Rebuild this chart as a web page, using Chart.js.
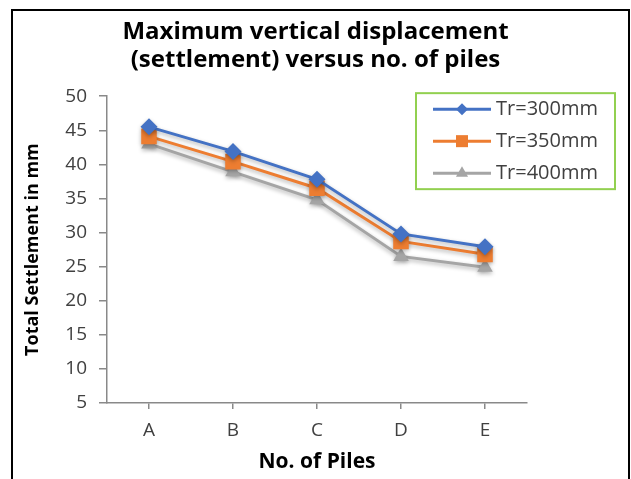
<!DOCTYPE html>
<html>
<head>
<meta charset="utf-8">
<script src="https://cdn.jsdelivr.net/npm/chart.js@4.4.1/dist/chart.umd.min.js"></script>
<style>
  html, body { margin: 0; padding: 0; background: #fff; }
  .frame { position: absolute; left: 11px; top: 9px; width: 615px; height: 500px; border: 2px solid #000; }
  .wrap { position: absolute; left: 0; top: 0; width: 631px; height: 479px; }
</style>
</head>
<body>
<div class="frame"></div>
<div class="wrap"><canvas id="settlement"></canvas></div>
<script>
// categories and series
const piles = ["A", "B", "C", "D", "E"];
const tr300 = [45.5, 41.9, 37.8, 29.8, 27.9];
const tr350 = [44.1, 40.4, 36.5, 28.7, 26.8];
const tr400 = [43.0, 38.9, 34.8, 26.5, 24.9];
const seriesNames = ["Tr=300mm", "Tr=350mm", "Tr=400mm"];

const axisGray = "#898989";
const font = "Open Sans";

// soft glow under lines and markers, like the Excel original
const shadowPlugin = {
  id: "shadow",
  beforeDatasetsDraw(chart) {
    const ctx = chart.ctx;
    ctx.save();
    ctx.shadowColor = "rgba(0,0,0,0.3)";
    ctx.shadowBlur = 4;
    ctx.shadowOffsetY = 2;
  },
  afterDatasetsDraw(chart) {
    chart.ctx.restore();
  }
};

// boxed legend sitting inside the plot, top right
const legendMarker = [6, 8.5, 7];
const boxLegend = {
  id: "boxLegend",
  afterDraw(chart) {
    const ctx = chart.ctx;
    const area = chart.chartArea;
    const x = area.right - 111, y = area.top - 3, w = 199, h = 96;
    ctx.save();
    ctx.fillStyle = "#fff";
    ctx.fillRect(x, y, w, h);
    ctx.strokeStyle = "#92d050";
    ctx.lineWidth = 2;
    ctx.strokeRect(x, y, w, h);
    chart.data.datasets.forEach((ds, i) => {
      const cy = y + 16 + i * 32;
      ctx.strokeStyle = ds.borderColor;
      ctx.fillStyle = ds.borderColor;
      ctx.lineWidth = 3;
      ctx.beginPath();
      ctx.moveTo(x + 17, cy);
      ctx.lineTo(x + 75, cy);
      ctx.stroke();
      Chart.helpers.drawPoint(ctx, { pointStyle: ds.pointStyle, radius: legendMarker[i], borderWidth: 0 }, x + 46, cy);
      ctx.fillStyle = "#404040";
      ctx.font = "20px " + font;
      ctx.textBaseline = "middle";
      ctx.fillText(ds.label, x + 80, cy);
    });
    ctx.restore();
  }
};

const data = {
  labels: piles,
  datasets: [
    {
      label: seriesNames[0],
      data: tr300,
      borderColor: "#4472c4",
      backgroundColor: "#4472c4",
      pointStyle: "rectRot",
      pointRadius: 8.5
    },
    {
      label: seriesNames[1],
      data: tr350,
      borderColor: "#ed7d31",
      backgroundColor: "#ed7d31",
      pointStyle: "rect",
      pointRadius: 11
    },
    {
      label: seriesNames[2],
      data: tr400,
      borderColor: "#a5a5a5",
      backgroundColor: "#a5a5a5",
      pointStyle: "triangle",
      pointRadius: 9
    }
  ]
};

const config = {
  type: "line",
  data: data,
  plugins: [shadowPlugin, boxLegend],
  options: {
    responsive: true,
    maintainAspectRatio: false,
    animation: false,
    datasets: {
      line: { borderWidth: 3, pointBorderWidth: 0, tension: 0 }
    },
    layout: { padding: 0 },
    plugins: {
      legend: { display: false },
      tooltip: { enabled: false },
      title: {
        display: true,
        text: ["Maximum vertical displacement", "(settlement) versus no. of piles"],
        color: "#000",
        font: { family: font, size: 24, weight: "bold", lineHeight: 1.17 },
        padding: { top: 18, bottom: 22 }
      }
    },
    scales: {
      x: {
        offset: true,
        grid: { drawOnChartArea: false, offset: false, color: axisGray, lineWidth: 1.5, tickLength: 6 },
        border: { color: axisGray, width: 1.5 },
        ticks: { color: "#404040", font: { family: font, size: 19 }, padding: 10 },
        title: {
          display: true,
          text: "No. of Piles",
          color: "#000",
          font: { family: font, size: 21, weight: "bold" },
          padding: { top: 2 }
        },
        afterFit(scale) { scale.height = 76; }
      },
      y: {
        min: 5,
        max: 50,
        ticks: { stepSize: 5, color: "#404040", font: { family: font, size: 19 }, padding: 12 },
        grid: { drawOnChartArea: false, color: axisGray, lineWidth: 1.5, tickLength: 8 },
        border: { color: axisGray, width: 1.5 },
        title: {
          display: true,
          text: "Total Settlement in mm",
          color: "#000",
          font: { family: font, size: 18, weight: "bold" },
          padding: { top: 22, bottom: 0 }
        },
        afterFit(scale) { scale.width = 107; }
      },
      // empty right-hand axis only reserves the space right of the plot
      spacer: {
        type: "linear",
        position: "right",
        grid: { display: false },
        border: { display: false },
        ticks: { display: false },
        afterFit(scale) { scale.width = 104; }
      }
    }
  }
};

new Chart(document.getElementById("settlement"), config);
</script>
</body>
</html>
